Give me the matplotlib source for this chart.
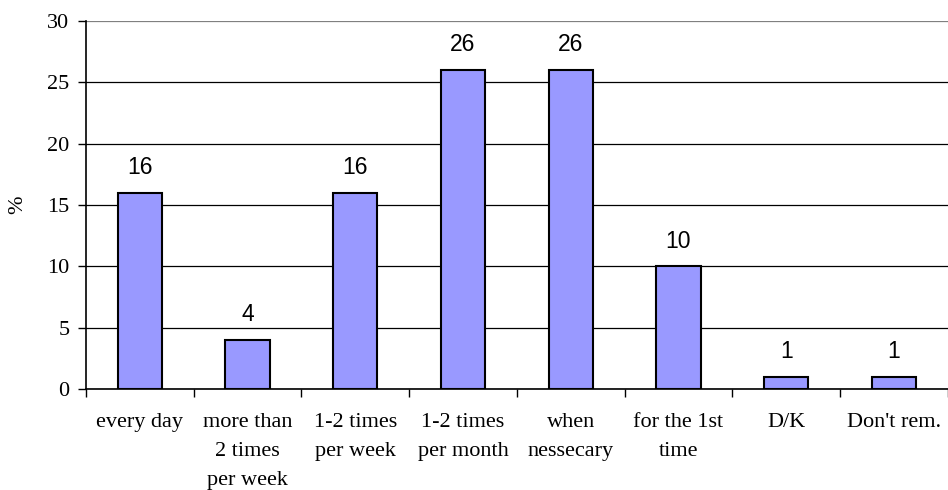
import matplotlib.pyplot as plt
import numpy as np

categories = ["every day", "more than\n2 times\nper week", "1-2 times\nper week",
              "1-2 times\nper month", "when\nnessecary", "for the 1st\ntime", "D/K", "Don't rem."]
values = [16, 4, 16, 26, 26, 10, 1, 1]
y_ticks = [0, 5, 10, 15, 20, 25, 30]

SERIF = "Liberation Serif"
SANS = "Liberation Sans"

fig = plt.figure(figsize=(9.48, 4.90), dpi=100)
ax = fig.add_axes([0.0907, 0.206, 0.909, 0.751])

x = np.arange(len(categories))
ax.bar(x, values, width=0.41, color="#9999ff", edgecolor="black", linewidth=1.5, zorder=3)

for xi, v in zip(x, values):
    ax.annotate(str(v), (xi, v), xytext=(0, 10), textcoords="offset points",
                ha="center", va="bottom", fontsize=16.5, family=SANS)

ax.set_xlim(-0.5, len(categories) - 0.5)
ax.set_ylim(0, 30)
ax.set_yticks(y_ticks)
ax.set_yticklabels([str(t) for t in y_ticks], family=SERIF, fontsize=16)
ax.yaxis.grid(True, color="black", linewidth=0.9, zorder=0)
ax.yaxis.get_gridlines()[-1].set_color("#808080")
ax.set_axisbelow(True)

# ticks sit between categories, labels centred under bars
ax.set_xticks(np.arange(len(categories) + 1) - 0.5)
ax.set_xticklabels([])
ax.set_xticks(x, minor=True)
ax.set_xticklabels(categories, minor=True, family=SERIF, fontsize=16, linespacing=1.74, va="top")
ax.tick_params(axis="x", which="minor", length=0, pad=17)
ax.tick_params(axis="x", which="major", length=6, width=1, direction="out")
ax.tick_params(axis="y", length=6, width=1, direction="out", pad=6)

ax.set_ylabel("%", family=SERIF, fontsize=16, labelpad=14)

for side in ["top", "right"]:
    ax.spines[side].set_visible(False)
ax.spines["left"].set_linewidth(1.2)
ax.spines["bottom"].set_linewidth(1.2)

fig.savefig("out.png", dpi=100)
